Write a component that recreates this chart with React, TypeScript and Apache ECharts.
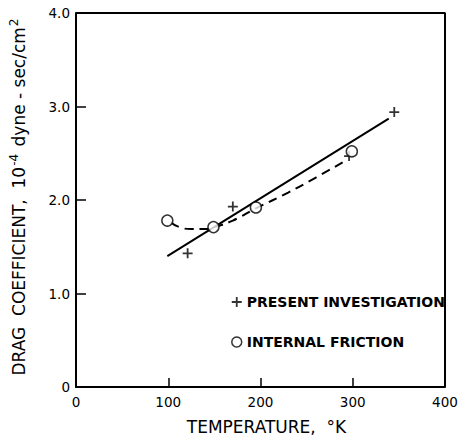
import React, { useEffect, useRef } from "react";
import * as echarts from "echarts";

const presentT = [121, 170, 296, 345];
const presentC = [1.43, 1.93, 2.47, 2.94];
const frictionT = [99, 149, 195, 299];
const frictionC = [1.78, 1.71, 1.92, 2.52];
const fitT = [99, 339];
const fitC = [1.4, 2.87];
const dashT = [103, 112, 125, 140, 150, 170, 195, 230, 260, 292];
const dashC = [1.76, 1.71, 1.69, 1.69, 1.71, 1.78, 1.91, 2.08, 2.24, 2.42];
const xTicks = [0, 100, 200, 300, 400];
const yTicks = [0, 1, 2, 3, 4];

const FONT = "DejaVu Sans";
const PLUS = "path://M-0.18,-1 H0.18 V-0.18 H1 V0.18 H0.18 V1 H-0.18 V0.18 H-1 V-0.18 H-0.18 Z";

export default function App() {
  const ref = useRef<HTMLDivElement>(null);
  useEffect(() => {
    const chart = echarts.init(ref.current!, null, { renderer: "svg" });
    const zip = (a: number[], b: number[]) => a.map((v, i) => [v, b[i]]);
    chart.setOption({
      animation: false,
      backgroundColor: "#fff",
      grid: { left: 76, top: 13, right: 19, bottom: 51, show: false },
      legend: {
        orient: "vertical",
        left: 226,
        top: 290,
        itemGap: 26,
        itemWidth: 10,
        itemHeight: 10,
        data: [
          { name: "PRESENT INVESTIGATION", icon: PLUS, itemStyle: { color: "#000", borderWidth: 0 } },
          {
            name: "INTERNAL FRICTION",
            icon: "circle",
            itemStyle: { color: "#fff", borderColor: "#000", borderWidth: 1.5 },
          },
        ],
        textStyle: { fontFamily: FONT, fontSize: 14, color: "#000", fontWeight: "bold" },
      },
      xAxis: {
        type: "value",
        min: 0,
        max: 400,
        interval: 100,
        name: "TEMPERATURE,  °K",
        nameLocation: "middle",
        nameGap: 31,
        nameTextStyle: { fontFamily: FONT, fontSize: 17, color: "#000", padding: [0, 0, 0, 12] },
        axisLine: { show: true, lineStyle: { color: "#000", width: 2 } },
        axisTick: { show: true, inside: true, length: 9, lineStyle: { color: "#000", width: 1.5 } },
        axisLabel: {
          fontFamily: FONT,
          fontSize: 13.5,
          color: "#000",
          margin: 8,
          formatter: (v: number) => (xTicks.includes(v) ? String(v) : ""),
        },
        splitLine: { show: false },
      },
      yAxis: {
        type: "value",
        min: 0,
        max: 4,
        interval: 1,
        name: "{a|DRAG  COEFFICIENT,  10}{s|-4}{a| dyne - sec/cm}{s|2}",
        nameLocation: "middle",
        nameGap: 46,
        nameTextStyle: {
          fontFamily: FONT,
          fontSize: 17,
          color: "#000",
          padding: [0, 0, 0, 8],
          rich: {
            a: { fontFamily: FONT, fontSize: 17, color: "#000" },
            s: { fontFamily: FONT, fontSize: 12, color: "#000", padding: [0, 2, 10, 1] },
          },
        },
        axisLine: { show: true, lineStyle: { color: "#000", width: 2 } },
        axisTick: { show: true, inside: true, length: 10, lineStyle: { color: "#000", width: 1.5 } },
        axisLabel: {
          fontFamily: FONT,
          fontSize: 13.5,
          color: "#000",
          margin: 6,
          formatter: (v: number) => (yTicks.includes(v) ? (v === 0 ? "0" : v.toFixed(1)) : ""),
        },
        splitLine: { show: false },
      },
      series: [
        {
          type: "line",
          name: "fit",
          data: zip(fitT, fitC),
          showSymbol: false,
          lineStyle: { color: "#000", width: 2 },
          silent: true,
        },
        {
          type: "line",
          name: "dash",
          data: zip(dashT, dashC),
          smooth: true,
          showSymbol: false,
          lineStyle: { color: "#000", width: 2, type: [9, 6] },
          silent: true,
        },
        {
          type: "scatter",
          name: "PRESENT INVESTIGATION",
          data: zip(presentT, presentC),
          symbol: PLUS,
          symbolSize: 10,
          itemStyle: { color: "#000" },
        },
        {
          type: "scatter",
          name: "INTERNAL FRICTION",
          data: zip(frictionT, frictionC),
          symbol: "circle",
          symbolSize: 11,
          itemStyle: { color: "#fff", borderColor: "#000", borderWidth: 1.5 },
          z: 3,
        },
        {
          type: "line",
          name: "frame",
          data: [[0, 4], [400, 4], [400, 0]],
          showSymbol: false,
          lineStyle: { color: "#000", width: 2 },
          silent: true,
        },
      ],
    });
    return () => chart.dispose();
  }, []);
  return <div ref={ref} style={{ width: 464, height: 440, position: "absolute", left: 0, top: 0 }} />;
}
